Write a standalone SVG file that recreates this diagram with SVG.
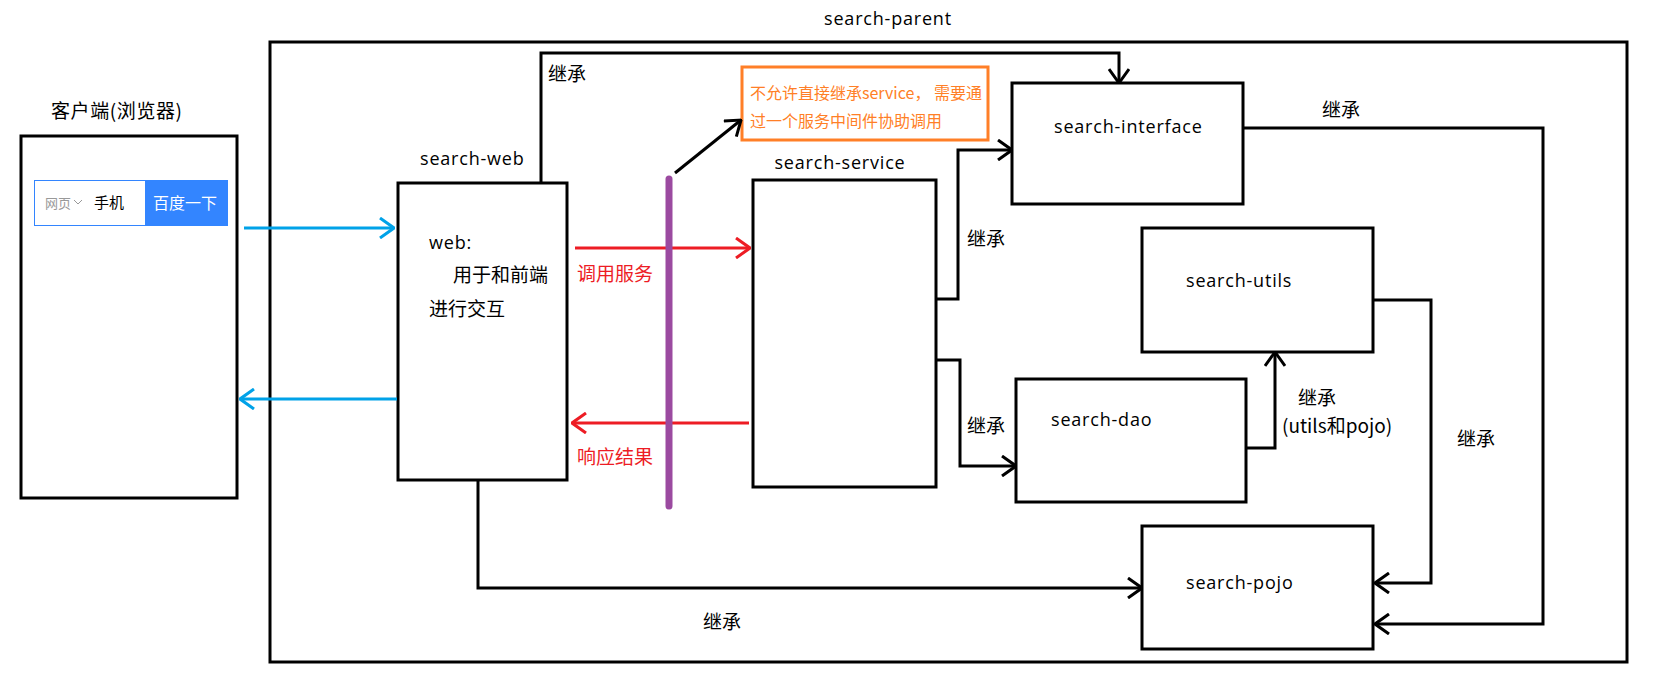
<svg xmlns="http://www.w3.org/2000/svg" width="1661" height="690" viewBox="0 0 1661 690">
<style>
.box{fill:#fff;stroke:#000;stroke-width:3}
.t{font-family:"Open Sans","Noto Sans CJK SC",sans-serif;font-size:18px;letter-spacing:0.8px;fill:#000}
.c{font-family:"Noto Sans CJK SC",sans-serif;font-size:19px;fill:#000}
.red{fill:#ed1c24}
.org{font-family:"Noto Sans CJK SC",sans-serif;font-size:16px;fill:#ff7f27}
.ln{fill:none;stroke:#000;stroke-width:3}
</style>
<defs>
<marker id="ab" viewBox="0 0 16 22" refX="15" refY="11" markerWidth="16" markerHeight="22" markerUnits="userSpaceOnUse" orient="auto"><path d="M1,1 L15,11 L1,21" fill="none" stroke="#000" stroke-width="3"/></marker>
<marker id="ar" viewBox="0 0 16 22" refX="15" refY="11" markerWidth="16" markerHeight="22" markerUnits="userSpaceOnUse" orient="auto"><path d="M1,1 L15,11 L1,21" fill="none" stroke="#ed1c24" stroke-width="3"/></marker>
<marker id="abl" viewBox="0 0 16 22" refX="15" refY="11" markerWidth="16" markerHeight="22" markerUnits="userSpaceOnUse" orient="auto"><path d="M1,1 L15,11 L1,21" fill="none" stroke="#00a2e8" stroke-width="3"/></marker>
</defs>
<rect width="1661" height="690" fill="#fff"/>

<g id="parent">
<rect x="270" y="42" width="1357" height="620" fill="none" stroke="#000" stroke-width="3"/>
<text class="t" x="888" y="25" text-anchor="middle">search-parent</text>
</g>

<g id="client">
<text class="c" x="51" y="118" font-size="20" letter-spacing="0.6">客户端(浏览器)</text>
<rect class="box" x="21" y="136" width="216" height="362"/>
<rect x="34.5" y="180.5" width="193" height="45" fill="#fff" stroke="#3385ff" stroke-width="1"/>
<rect x="145" y="180.5" width="83" height="45" fill="#3385ff"/>
<text x="45" y="208" font-family="Noto Sans CJK SC,sans-serif" font-size="13" fill="#999">网页</text>
<path d="M74,200 L78,204 L82,200" fill="none" stroke="#999" stroke-width="1"/>
<text x="94" y="208" font-family="Noto Sans CJK SC,sans-serif" font-size="15" fill="#000">手机</text>
<text x="153" y="209" font-family="Noto Sans CJK SC,sans-serif" font-size="16" fill="#fff">百度一下</text>
</g>

<g id="search-web">
<text class="t" x="420" y="165">search-web</text>
<rect class="box" x="398" y="183" width="169" height="297"/>
<text class="t" x="429" y="249">web:</text>
<text class="c" x="453" y="282">用于和前端</text>
<text class="c" x="429" y="316">进行交互</text>
</g>

<g id="search-service">
<text class="t" x="840" y="169" text-anchor="middle">search-service</text>
<rect class="box" x="753" y="180" width="183" height="307"/>
</g>

<g id="note">
<rect x="742" y="67" width="246" height="73" fill="#fff" stroke="#ff7f27" stroke-width="3"/>
<text class="org" x="750" y="99">不允许直接继承service， 需要通</text>
<text class="org" x="750" y="127">过一个服务中间件协助调用</text>
</g>

<g id="search-interface">
<rect class="box" x="1012" y="83" width="231" height="121"/>
<text class="t" x="1054" y="133">search-interface</text>
</g>

<g id="search-utils">
<rect class="box" x="1142" y="228" width="231" height="124"/>
<text class="t" x="1186" y="287">search-utils</text>
</g>

<g id="search-dao">
<rect class="box" x="1016" y="379" width="230" height="123"/>
<text class="t" x="1051" y="426">search-dao</text>
</g>

<g id="search-pojo">
<rect class="box" x="1142" y="526" width="231" height="123"/>
<text class="t" x="1186" y="589">search-pojo</text>
</g>

<g id="connectors">
<line x1="244" y1="228" x2="394" y2="228" stroke="#00a2e8" stroke-width="3" marker-end="url(#abl)"/>
<line x1="397" y1="399" x2="240" y2="399" stroke="#00a2e8" stroke-width="3" marker-end="url(#abl)"/>
<line x1="575" y1="248" x2="750" y2="248" stroke="#ed1c24" stroke-width="3" marker-end="url(#ar)"/>
<line x1="749" y1="423" x2="572" y2="423" stroke="#ed1c24" stroke-width="3" marker-end="url(#ar)"/>
<line x1="669" y1="179" x2="669" y2="506" stroke="#9b4aa0" stroke-width="7" stroke-linecap="round"/>
<line x1="675" y1="173" x2="741" y2="120" class="ln" marker-end="url(#ab)"/>
<polyline class="ln" points="541,183 541,53 1119,53 1119,83" marker-end="url(#ab)"/>
<polyline class="ln" points="936,299 958,299 958,150 1012,150" marker-end="url(#ab)"/>
<polyline class="ln" points="936,360 960,360 960,466 1016,466" marker-end="url(#ab)"/>
<polyline class="ln" points="1246,448 1275,448 1275,352" marker-end="url(#ab)"/>
<polyline class="ln" points="478,480 478,588 1142,588" marker-end="url(#ab)"/>
<polyline class="ln" points="1373,300 1431,300 1431,583 1375,583" marker-end="url(#ab)"/>
<polyline class="ln" points="1243,128 1543,128 1543,624 1375,624" marker-end="url(#ab)"/>
<text class="c" x="548" y="81">继承</text>
<text class="c red" x="577" y="281">调用服务</text>
<text class="c red" x="577" y="464">响应结果</text>
<text class="c" x="967" y="246">继承</text>
<text class="c" x="967" y="433">继承</text>
<text class="c" x="1298" y="405">继承</text>
<text class="c" x="1282" y="433">(utils和pojo)</text>
<text class="c" x="703" y="629">继承</text>
<text class="c" x="1457" y="446">继承</text>
<text class="c" x="1322" y="117">继承</text>
</g>
</svg>
